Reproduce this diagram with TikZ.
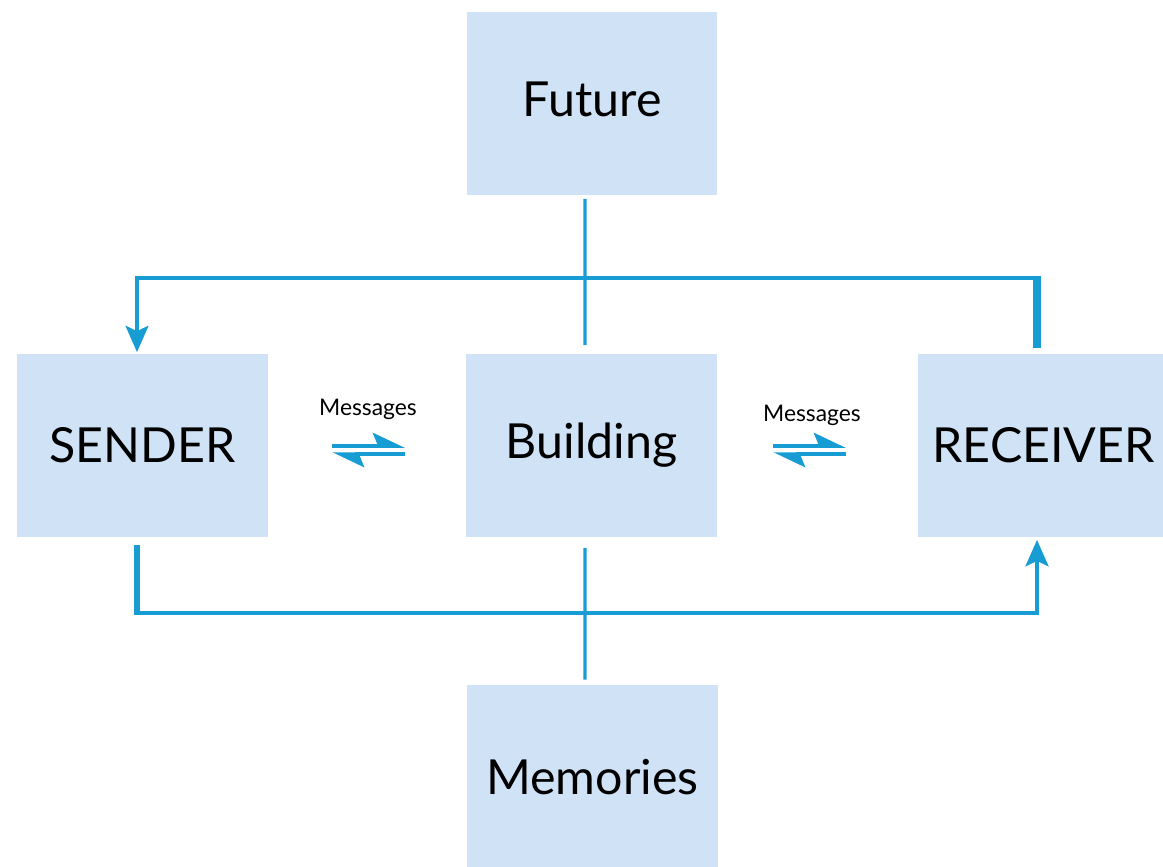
\documentclass[tikz,border=0pt]{standalone}
\usepackage{fontspec}
\setmainfont{Lato}
\usetikzlibrary{arrows.meta}
\definecolor{boxblue}{RGB}{208,227,246}
\definecolor{linkblue}{RGB}{24,156,212}
\begin{document}
\begin{tikzpicture}[x=0.02cm,y=-0.02cm,
  box/.style={fill=boxblue,minimum width=5.02cm,minimum height=3.68cm,inner sep=0pt,font=\fontsize{27.5}{30}\selectfont},
  link/.style={draw=linkblue,line width=1.8pt},
  bigtip/.style={-{Stealth[length=15pt,width=13pt,inset=3pt]}},
  msg/.style={draw=linkblue,line width=2pt,-{Stealth[harpoon,length=16pt,width=15pt,inset=3pt]}},
  msglabel/.style={font=\fontsize{13}{15}\selectfont}]
\useasboundingbox (0,0) rectangle (1163,866);
\node[box] (fut) at (592,103.5) {\raisebox{4.5pt}{Future}};
\node[box] (snd) at (142.5,445.5) {SENDER};
\node[box] (bld) at (591.5,445.5) {Building};
\node[box] (rcv) at (1043.5,445.5) {RECEIVER};
\node[box] (mem) at (592.5,777) {\raisebox{-3.5pt}{Memories}};
\coordinate (top) at (0,278);
\coordinate (bot) at (0,613);
% up through the future
\draw[link] ([xshift=-0.14cm,yshift=-0.06cm]fut.south) -- ([xshift=-0.13cm,yshift=0.16cm]bld.north);
\draw[link,line width=4pt] ([xshift=-0.13cm,yshift=0.1cm]rcv.north) -- ([xshift=-0.13cm,yshift=0.9pt]rcv.north |- top);
\draw[link,bigtip] ([xshift=-0.13cm,xshift=2pt]rcv.north |- top) -- ([xshift=-0.11cm]snd.north |- top) -- ([xshift=-0.11cm,yshift=0.02cm]snd.north);
% down through the memories
\draw[link] ([xshift=-0.13cm,yshift=-0.2cm]bld.south) -- ([xshift=-0.15cm,yshift=0.1cm]mem.north);
\draw[link,line width=3.4pt] ([xshift=-0.11cm,yshift=-0.14cm]snd.south) -- ([xshift=-0.11cm,yshift=-1.2pt]snd.south |- bot);
\draw[link,line width=2.4pt,bigtip] ([xshift=-0.11cm,xshift=-1.7pt]snd.south |- bot) -- ([xshift=-0.13cm]rcv.south |- bot) -- ([xshift=-0.13cm,yshift=-0.04cm]rcv.south);
% messages both ways
\draw[msg,shorten <=1.28cm,shorten >=1.22cm] ([yshift=-0.01cm]snd.east) -- ([yshift=-0.01cm]bld.west);
\draw[msg,shorten <=1.22cm,shorten >=1.28cm] ([yshift=-0.17cm]bld.west) -- ([yshift=-0.17cm]snd.east);
\draw[msg,shorten <=1.12cm,shorten >=1.44cm] ([yshift=-0.01cm]bld.east) -- ([yshift=-0.01cm]rcv.west);
\draw[msg,shorten <=1.44cm,shorten >=1.12cm] ([yshift=-0.17cm]rcv.west) -- ([yshift=-0.17cm]bld.east);
\node[msglabel] (m1) at (368,409) {Messages};
\node[msglabel] (m2) at (812,415) {Messages};
\end{tikzpicture}
\end{document}
